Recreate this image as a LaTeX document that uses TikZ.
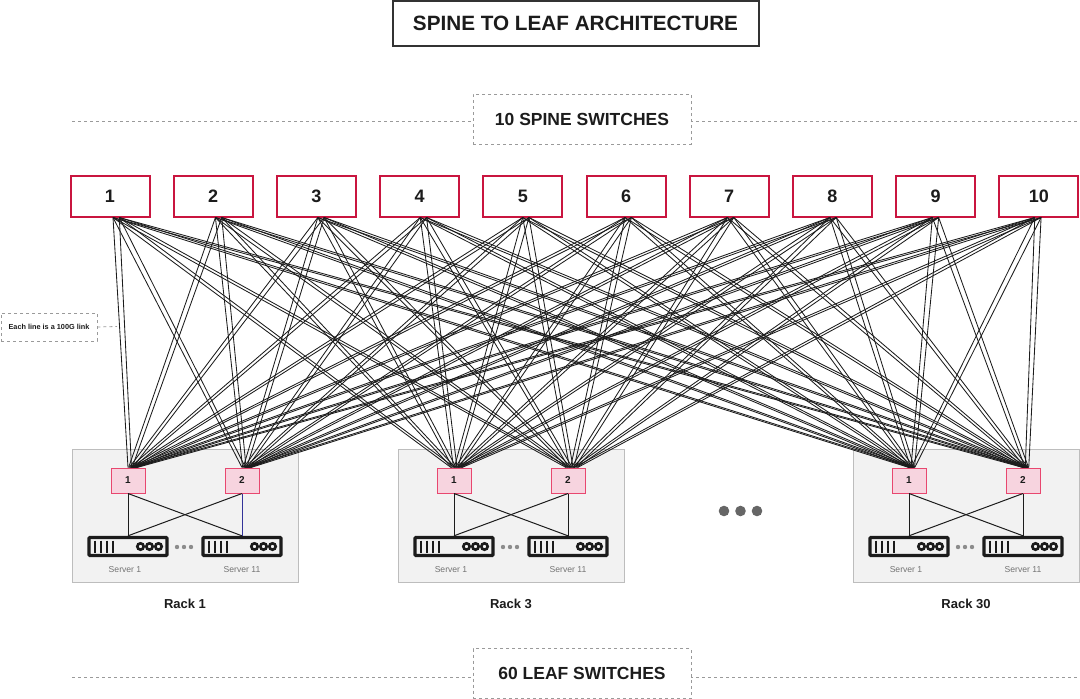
\documentclass[tikz,border=0pt]{standalone}
\usepackage{fontspec}
\usepackage{xcolor}
\setmainfont{Liberation Sans}
\usetikzlibrary{positioning,calc}
\definecolor{spinered}{HTML}{C9153F}
\definecolor{leafred}{HTML}{E8476F}
\definecolor{leafpink}{HTML}{F7D4DF}
\definecolor{rackgrey}{HTML}{F2F2F2}
\definecolor{rackedge}{HTML}{BDBDBD}
\definecolor{dashgrey}{HTML}{9A9A9A}
\definecolor{inkdark}{HTML}{1C1C1C}

\begin{document}
\begin{tikzpicture}[x=1pt, y=-1pt,
    title_box/.style={draw=inkdark!90, fill=white, line width=2pt, font=\fontsize{20.7}{25}\selectfont\bfseries, text=inkdark, minimum width=366pt, minimum height=45pt, inner sep=0pt},
    label_box/.style={draw=dashgrey, dashed, fill=white, line width=0.8pt, font=\fontsize{17.5}{20}\selectfont\bfseries, text=inkdark, minimum width=218pt, minimum height=50pt, inner sep=0pt},
    note_box/.style={draw=dashgrey, dashed, fill=white, line width=0.8pt, font=\fontsize{7.3}{8}\selectfont\bfseries, text=inkdark, minimum width=96pt, minimum height=28pt, inner sep=0pt},
    guide/.style={draw=dashgrey, dashed, line width=0.8pt},
    spine_sw/.style={draw=spinered, fill=white, line width=2pt, font=\fontsize{18}{20}\selectfont\bfseries, text=inkdark, minimum width=79pt, minimum height=41pt, inner sep=0pt},
    leaf_sw/.style={draw=leafred, fill=leafpink, line width=1pt, font=\fontsize{10}{11}\selectfont\bfseries, text=inkdark, minimum width=34pt, minimum height=25pt, inner sep=0pt},
    rack_box/.style={draw=rackedge, fill=rackgrey, line width=1pt, minimum width=226pt, minimum height=133pt, inner sep=0pt},
    server_box/.style={draw=inkdark, fill=rackgrey, line width=3.4pt, rounded corners=1pt, minimum width=78pt, minimum height=18pt, inner sep=0pt},
    server_lbl/.style={font=\fontsize{8.6}{10}\selectfont, text=black!55, inner sep=0pt},
    rack_lbl/.style={font=\fontsize{13}{15}\selectfont\bfseries, text=inkdark, inner sep=0pt},
    link/.style={draw=inkdark, line width=0.85pt},
    wire/.style={draw=inkdark, line width=1pt},
    blue_wire/.style={draw=blue!50!black!80, line width=1pt},
    small_dot/.style={circle, fill=black!45, minimum size=4.4pt, inner sep=0pt},
    big_dot/.style={circle, fill=black!60, minimum size=10.6pt, inner sep=0pt},
    server_face/.pic={
        \foreach \b in {-33,-27,-21,-15} \draw[inkdark, line width=2.6pt] (\b,-6) -- (\b,6);
        \foreach \c in {12.5,21.5,30.5} \draw[inkdark, line width=2.6pt] (\c,0) circle (3.2);
    }
]
    \useasboundingbox (0,0) rectangle (1080,699);

    % Title and section labels
    \node[title_box] (title) at (575.5, 23) {SPINE TO LEAF ARCHITECTURE};
    \coordinate (top_l) at (72, 121);
    \coordinate (top_r) at (1080, 121);
    \coordinate (bot_l) at (72, 677);
    \coordinate (bot_r) at (1080, 677);
    \draw[guide] (top_l) -- (top_r);
    \draw[guide] (bot_l) -- (bot_r);
    \node[label_box] (spine_lbl) at (582, 119) {10 SPINE SWITCHES};
    \node[label_box] (leaf_lbl) at (582, 673.5) {60 LEAF SWITCHES};

    % Spine switches
    \foreach \s in {1,...,10} {
        \node[spine_sw] (s\s) at ({110+(\s-1)*103.2}, 196) {\s};
    }

    % Racks
    \foreach \r/\x in {1/72, 3/398, 30/853} {
        \node[rack_box] (rack\r) at (\x+113, 515.5) {};
        \node[leaf_sw] (l\r_1) at (\x+56, 480.5) {1};
        \node[leaf_sw] (l\r_2) at (\x+170, 480.5) {2};
        \node[server_box] (sv\r_1) at (\x+56, 546.5) {};
        \node[server_box] (sv\r_2) at (\x+170, 546.5) {};
        \pic at (sv\r_1) {server_face};
        \pic at (sv\r_2) {server_face};
        \node[small_dot] (d\r_1) at (\x+105, 547) {};
        \node[small_dot] (d\r_2) at (\x+112, 547) {};
        \node[small_dot] (d\r_3) at (\x+119, 547) {};
        \node[server_lbl] (n\r_1) at (\x+53, 570) {Server 1};
        \node[server_lbl] (n\r_2) at (\x+170, 570) {Server 11};
        \node[rack_lbl] (name\r) at (\x+113, 604) {Rack \r};
        \draw[wire] (l\r_1.south) -- (sv\r_1.north);
        \draw[wire] (l\r_1.south) -- (sv\r_2.north);
        \draw[wire] (l\r_2.south) -- (sv\r_1.north);
        \draw[wire] (l\r_2.south) -- (sv\r_2.north);
    }
    \draw[blue_wire] (l1_2.south) -- (sv1_2.north);

    % Each spine to each leaf, two lines
    \foreach \s in {1,...,10} {
        \foreach \l/\base/\spread in {1_1/0/0.6, 1_2/0/0.6, 3_1/-3/0.83, 3_2/-2/0.9, 30_1/0/0.25, 30_2/0/0.25} {
            \foreach \k in {0,1} {
                \pgfmathsetmacro{\fromx}{3-(\s-1)*0.78+\k*6.3}
                \pgfmathsetmacro{\tox}{\base+(\s-1)*\spread+\k*3.5}
                \draw[link] ($(s\s.south)+(\fromx,0)$) -- ($(l\l.north)+(\tox,0)$);
            }
        }
    }

    % Note on the links
    \node[note_box] (note) at (49, 327) {Each line is a 100G link};
    \coordinate (note_end) at (117, 326.5);
    \draw[guide] (note.east) -- (note_end);

    % Dots between racks
    \node[big_dot] (gap1) at (724, 511) {};
    \node[big_dot] (gap2) at (740.5, 511) {};
    \node[big_dot] (gap3) at (757, 511) {};

\end{tikzpicture}
\end{document}
